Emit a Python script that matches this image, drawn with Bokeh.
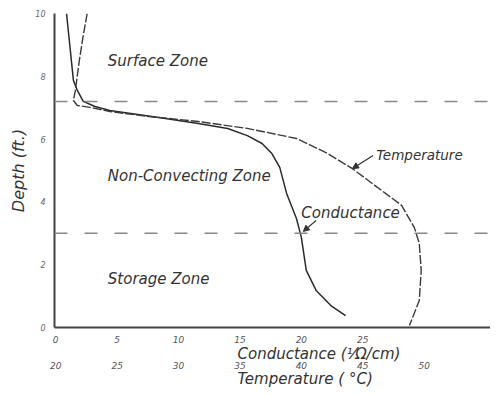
from bokeh.plotting import figure
from bokeh.models import Range1d, LinearAxis, FixedTicker, Label, Arrow, NormalHead, Span, Title
from bokeh.embed import file_html
from bokeh.resources import INLINE

# ---- data ----
cond_depth = [10.0, 7.87, 7.55, 7.20, 7.04, 6.91, 6.69, 6.50, 6.34, 6.11, 5.86, 5.54,
              5.10, 4.27, 3.47, 2.87, 1.82, 1.18, 0.70, 0.38]
conductance = [0.88, 1.44, 1.76, 2.24, 3.2, 4.4, 8.4, 11.6, 14.0, 15.6, 16.8, 17.6,
               18.24, 18.8, 19.6, 20.0, 20.4, 21.2, 22.4, 23.6]

temp_depth = [10.0, 9.30, 8.50, 7.55, 7.23, 7.07, 7.01, 6.88, 6.72, 6.56, 6.34, 6.02,
              5.57, 5.06, 4.52, 3.89, 3.18, 2.68, 1.82, 0.86, 0.06]
temperature = [22.56, 22.24, 21.92, 21.60, 21.44, 21.76, 22.8, 24.4, 27.6, 31.6, 35.6, 39.6,
               42.0, 44.16, 46.0, 48.16, 49.2, 49.6, 49.76, 49.6, 48.8]

cond_ticks = [0, 5, 10, 15, 20, 25]
temp_ticks = [20, 25, 30, 35, 40, 45, 50]
depth_ticks = [0, 2, 4, 6, 8, 10]
zone_bounds = [7.2, 3.0]
zone_names = ["Surface Zone", "Non-Convecting Zone", "Storage Zone"]
zone_label_depths = [8.5, 4.84, 1.56]

FONT = "DejaVu Sans"
INK = "#333333"

p = figure(width=490, height=388, output_backend="svg", toolbar_location=None, tools="",
           x_range=Range1d(-0.1, 35.4), y_range=Range1d(0, 10),
           min_border_left=54, min_border_right=0, min_border_top=13, min_border_bottom=61)
p.extra_x_ranges = {"temp": Range1d(19.9, 55.4)}
p.grid.visible = False
p.outline_line_color = None
p.background_fill_color = "white"
p.border_fill_color = "white"

# conductance axis
xa = p.xaxis[0]
xa.ticker = FixedTicker(ticks=cond_ticks)
xa.major_tick_line_color = None
xa.minor_tick_line_color = None
xa.axis_line_color = "#444444"
xa.axis_line_width = 2
xa.major_label_text_font = FONT
xa.major_label_text_font_style = "italic"
xa.major_label_text_font_size = "9px"
xa.major_label_text_color = "#555555"
xa.major_label_standoff = 2

# temperature axis
ta = LinearAxis(x_range_name="temp", ticker=FixedTicker(ticks=temp_ticks))
ta.axis_line_color = None
ta.major_tick_line_color = None
ta.minor_tick_line_color = None
ta.major_label_text_font = FONT
ta.major_label_text_font_style = "italic"
ta.major_label_text_font_size = "9px"
ta.major_label_text_color = "#555555"
ta.major_label_standoff = -4

t1 = Title(text="Conductance (\u00b9\u2044\u03a9/cm)", align="left", offset=183,
           text_font=FONT, text_font_style="italic", text_font_size="15px",
           text_color=INK, standoff=-6, text_line_height=1.0)
t2 = Title(text="Temperature ( \u00b0C)", align="left", offset=183,
           text_font=FONT, text_font_style="italic", text_font_size="15px",
           text_color=INK, standoff=-7, text_line_height=1.0)
p.below = [xa, t1, ta, t2]

# depth axis
ya = p.yaxis[0]
ya.ticker = FixedTicker(ticks=depth_ticks)
ya.major_tick_line_color = None
ya.minor_tick_line_color = None
ya.axis_line_color = "#444444"
ya.axis_line_width = 2
ya.major_label_text_font = FONT
ya.major_label_text_font_style = "italic"
ya.major_label_text_font_size = "8px"
ya.major_label_text_color = "#666666"
ya.major_label_standoff = 3
ya.axis_label = "Depth (ft.)"
ya.axis_label_text_font = FONT
ya.axis_label_text_font_style = "italic"
ya.axis_label_text_font_size = "16px"
ya.axis_label_text_color = INK
ya.axis_label_standoff = 4

# zone boundaries
for b in zone_bounds:
    p.add_layout(Span(location=b, dimension="width", line_color="#888888",
                      line_width=1.5, line_dash="13 17"))

# curves
p.line(conductance, cond_depth, line_color="#2a2a2a", line_width=1.5)
p.line(temperature, temp_depth, line_color="#3a3a3a", line_width=1.4,
       line_dash="9 2", x_range_name="temp")

# zone labels
for name, d in zip(zone_names, zone_label_depths):
    p.add_layout(Label(x=4.24, y=d, text=name, text_font=FONT, text_font_style="italic",
                       text_font_size="15px", text_color=INK, text_baseline="middle"))

# curve annotations
p.add_layout(Label(x=26.1, y=5.48, text="Temperature", text_font=FONT,
                   text_font_style="italic", text_font_size="13.5px", text_color=INK,
                   text_baseline="middle"))
p.add_layout(Arrow(x_start=25.84, y_start=5.48, x_end=24.16, y_end=5.06,
                   line_color=INK, line_width=1.2,
                   end=NormalHead(size=6, fill_color=INK, line_color=INK)))
p.add_layout(Label(x=20.0, y=3.66, text="Conductance", text_font=FONT,
                   text_font_style="italic", text_font_size="15px", text_color=INK,
                   text_baseline="middle"))
p.add_layout(Arrow(x_start=21.2, y_start=3.41, x_end=20.16, y_end=3.06,
                   line_color=INK, line_width=1.2,
                   end=NormalHead(size=6, fill_color=INK, line_color=INK)))

open("out.html", "w").write(file_html(p, INLINE))
